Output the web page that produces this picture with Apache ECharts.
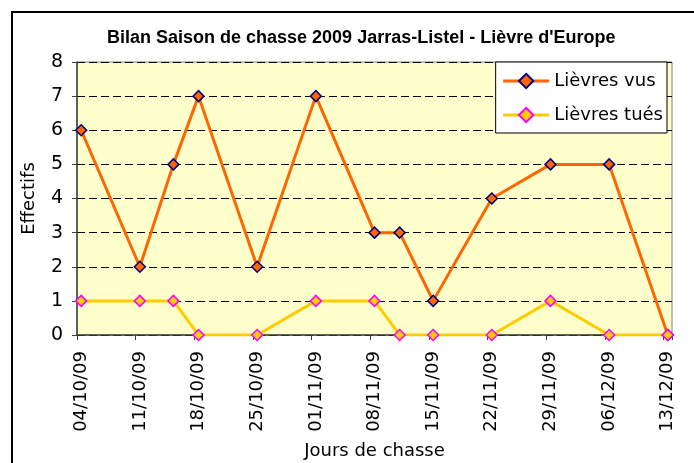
<!DOCTYPE html>
<html>
<head>
<meta charset="utf-8">
<script src="https://cdn.jsdelivr.net/npm/echarts@6/dist/echarts.min.js"></script>
<style>
html,body{margin:0;padding:0;background:#fff;}
#chart{width:694px;height:463px;}
</style>
</head>
<body>
<div id="chart"></div>
<script>
// ---- data ----
var titleText = "Bilan Saison de chasse 2009 Jarras-Listel - Lièvre d'Europe";
var dates = ['04/10/09','11/10/09','15/10/09','18/10/09','25/10/09','01/11/09','08/11/09','11/11/09','15/11/09','22/11/09','29/11/09','06/12/09','13/12/09'];
var lievresVus = [6,2,5,7,2,7,3,3,1,4,5,5,0];
var lievresTues = [1,1,1,0,0,1,1,0,0,0,1,0,0];
var seriesNames = ['Lièvres vus','Lièvres tués'];
var yTicks = [0,1,2,3,4,5,6,7,8];
var xTitle = 'Jours de chasse';
var yTitle = 'Effectifs';

// ---- build daily category axis (date axis like Excel) ----
function parseD(s){var p=s.split('/');return Date.UTC(2000+ +p[2], +p[1]-1, +p[0]);}
function fmt(t){var d=new Date(t);function z(n){return (n<10?'0':'')+n;}return z(d.getUTCDate())+'/'+z(d.getUTCMonth()+1)+'/'+z(d.getUTCFullYear()%100);}
var DAY=86400000;
var t0=parseD(dates[0]), t1=parseD(dates[dates.length-1]);
var categories=[];
for(var t=t0;t<=t1;t+=DAY){categories.push(fmt(t));}
function toDaily(vals){
  var arr=categories.map(function(){return '-';});
  dates.forEach(function(d,i){arr[categories.indexOf(d)]=vals[i];});
  return arr;
}

var FONT='DejaVu Sans';
var chart=echarts.init(document.getElementById('chart'),null,{renderer:'canvas'});
chart.setOption({
  animation:false,
  backgroundColor:'#fff',
  textStyle:{fontFamily:FONT},
  graphic:[{type:'rect',shape:{x:12,y:12,width:700,height:470},style:{fill:null,stroke:'#000',lineWidth:2},z:-1}],
  title:{text:titleText,left:102,top:24,textStyle:{fontFamily:'Liberation Sans',fontWeight:'bold',fontSize:18,color:'#000'}},
  legend:{
    orient:'vertical',right:27,top:62,
    backgroundColor:'#fff',borderColor:'#000',borderWidth:1,
    padding:[10,4,9,6],itemGap:16,itemWidth:46,itemHeight:18,
    lineStyle:{width:3},
    textStyle:{fontFamily:FONT,fontSize:18,color:'#000'},
    data:seriesNames
  },
  grid:{left:77,top:62,right:22,bottom:128,outerBoundsMode:'none',containLabel:false,show:true,backgroundColor:'#FFFFCC',borderColor:'#808080',borderWidth:1},
  xAxis:{
    type:'category',data:categories,boundaryGap:true,
    axisLine:{lineStyle:{color:'#404040',width:1.5}},
    axisTick:{show:true,interval:6,alignWithLabel:false,length:5,lineStyle:{color:'#404040'}},
    axisLabel:{interval:6,rotate:90,margin:16,fontSize:18,color:'#000',fontFamily:FONT},
    name:xTitle,nameLocation:'middle',nameGap:107,nameTextStyle:{fontSize:18,color:'#000',fontFamily:FONT},
    splitLine:{show:false}
  },
  yAxis:{
    type:'value',min:yTicks[0],max:yTicks[yTicks.length-1],interval:1,
    axisLine:{show:true,lineStyle:{color:'#404040',width:1.5}},
    axisTick:{show:true,length:5,lineStyle:{color:'#404040'}},
    axisLabel:{margin:14,fontSize:19,color:'#000',fontFamily:FONT},
    splitLine:{show:true,lineStyle:{color:'#000',type:[8,4],width:1}},
    name:yTitle,nameLocation:'middle',nameGap:39,nameRotate:90,nameTextStyle:{fontSize:18,color:'#000',fontFamily:FONT}
  },
  series:[
    {name:seriesNames[0],type:'line',data:toDaily(lievresVus),connectNulls:true,
     symbol:'diamond',symbolSize:11,showAllSymbol:true,
     lineStyle:{color:'#FF6600',width:3},
     itemStyle:{color:'#FF6600',borderColor:'#000080',borderWidth:1.5}},
    {name:seriesNames[1],type:'line',data:toDaily(lievresTues),connectNulls:true,
     symbol:'diamond',symbolSize:11,showAllSymbol:true,
     lineStyle:{color:'#FFCC00',width:3},
     itemStyle:{color:'#FFCC00',borderColor:'#FF00FF',borderWidth:1.5}}
  ]
});
</script>
</body>
</html>
